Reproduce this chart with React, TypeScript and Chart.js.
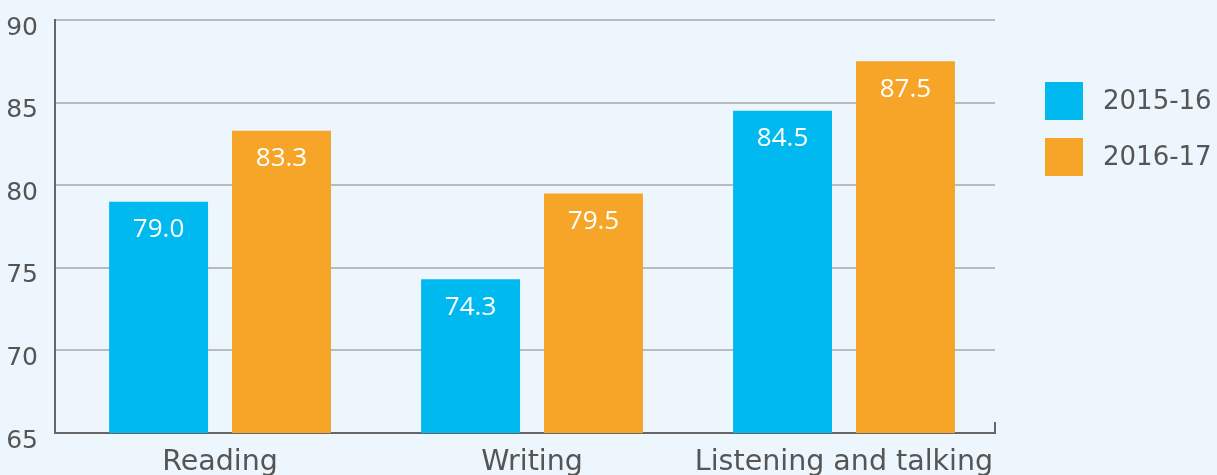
import React, { useEffect, useRef } from 'react';
import { Chart, registerables } from 'chart.js';

Chart.register(...registerables);

// Survey categories and the two school years compared
const categories = ['Reading', 'Writing', 'Listening and talking'];
const seriesNames = ['2015-16', '2016-17'];
const values2015 = [79.0, 74.3, 84.5];
const values2016 = [83.3, 79.5, 87.5];
const yTicks = [65, 70, 75, 80, 85, 90];

const BLUE = '#00B9EF';
const ORANGE = '#F7A529';
const TEXT = '#555555';
const AXIS = '#666666';
const GRID = '#B9BCBF';
const BG = '#EDF6FC';
const FONT = "'DejaVu Sans', sans-serif";
const VALUE_FONT = "'Open Sans', Roboto, sans-serif";

// White value labels inside the top of each bar
const valueLabels = {
  id: 'valueLabels',
  afterDatasetsDraw(chart: any) {
    const { ctx } = chart;
    ctx.save();
    ctx.fillStyle = '#FFFFFF';
    ctx.font = `26px ${VALUE_FONT}`;
    ctx.textAlign = 'center';
    ctx.textBaseline = 'middle';
    chart.data.datasets.forEach((ds: any, di: number) => {
      const meta = chart.getDatasetMeta(di);
      meta.data.forEach((bar: any, i: number) => {
        ctx.fillText(Number(ds.data[i].y).toFixed(1), bar.x, bar.y + 28);
      });
    });
    ctx.restore();
  },
};

// Square-swatch legend to the right of the plot, plus the end tick on the x axis
const sideLegend = {
  id: 'sideLegend',
  afterDraw(chart: any) {
    const { ctx, chartArea } = chart;
    ctx.save();
    ctx.strokeStyle = AXIS;
    ctx.lineWidth = 2;
    ctx.beginPath();
    ctx.moveTo(chartArea.right, chartArea.bottom);
    ctx.lineTo(chartArea.right, chartArea.bottom - 11);
    ctx.stroke();

    const x0 = chartArea.right + 50;
    const box = 38;
    ctx.font = `26px ${FONT}`;
    ctx.textAlign = 'left';
    ctx.textBaseline = 'middle';
    chart.data.datasets.forEach((ds: any, i: number) => {
      const y = 82 + i * 56;
      ctx.fillStyle = ds.backgroundColor;
      ctx.fillRect(x0, y, box, box);
      ctx.fillStyle = TEXT;
      ctx.fillText(ds.label, x0 + box + 20, y + box / 2 + 1);
    });
    ctx.restore();
  },
};

export default function App() {
  const canvasRef = useRef<HTMLCanvasElement | null>(null);

  useEffect(() => {
    if (!canvasRef.current) return;
    const chart = new Chart(canvasRef.current, {
      type: 'bar',
      data: {
        datasets: [
          {
            label: seriesNames[0],
            data: values2015.map((v, i) => ({ x: i, y: v })),
            backgroundColor: BLUE,
          },
          {
            label: seriesNames[1],
            data: values2016.map((v, i) => ({ x: i, y: v })),
            backgroundColor: ORANGE,
          },
        ],
      },
      options: {
        animation: false,
        responsive: true,
        maintainAspectRatio: false,
        layout: { padding: { top: 20, right: 222, left: 0, bottom: 0 } },
        categoryPercentage: 0.788,
        barPercentage: 0.805,
        plugins: {
          legend: { display: false },
          tooltip: { enabled: false },
        },
        scales: {
          x: {
            type: 'linear',
            offset: false,
            bounds: 'data',
            min: -0.529,
            max: 2.484,
            afterBuildTicks: (scale: any) => {
              scale.ticks = categories.map((_, i) => ({ value: i }));
            },
            afterFit: (scale: any) => {
              scale.height = 42;
              scale.paddingLeft = 0;
              scale.paddingRight = 0;
            },
            grid: { display: false, drawTicks: false },
            border: { display: true, color: AXIS, width: 2 },
            ticks: {
              padding: 12,
              color: TEXT,
              font: { family: FONT, size: 28.5 },
              maxRotation: 0,
              autoSkip: false,
              callback: (_v: any, i: number) => categories[i],
            },
          },
          y: {
            min: yTicks[0],
            max: yTicks[yTicks.length - 1],
            afterBuildTicks: (scale: any) => {
              scale.ticks = yTicks.map((v) => ({ value: v }));
            },
            afterFit: (scale: any) => {
              scale.width = 55;
              scale.paddingTop = 0;
              scale.paddingBottom = 0;
            },
            grid: { color: GRID, lineWidth: 2, drawTicks: false },
            border: { display: true, color: AXIS, width: 2 },
            ticks: {
              padding: 17,
              labelOffset: 8,
              color: TEXT,
              font: { family: FONT, size: 25 },
            },
          },
        },
      },
      plugins: [valueLabels, sideLegend],
    } as any);
    return () => chart.destroy();
  }, []);

  return (
    <div style={{ position: 'fixed', inset: 0, background: BG }}>
      <div style={{ position: 'relative', width: '100%', height: '100%' }}>
        <canvas ref={canvasRef} />
      </div>
    </div>
  );
}
